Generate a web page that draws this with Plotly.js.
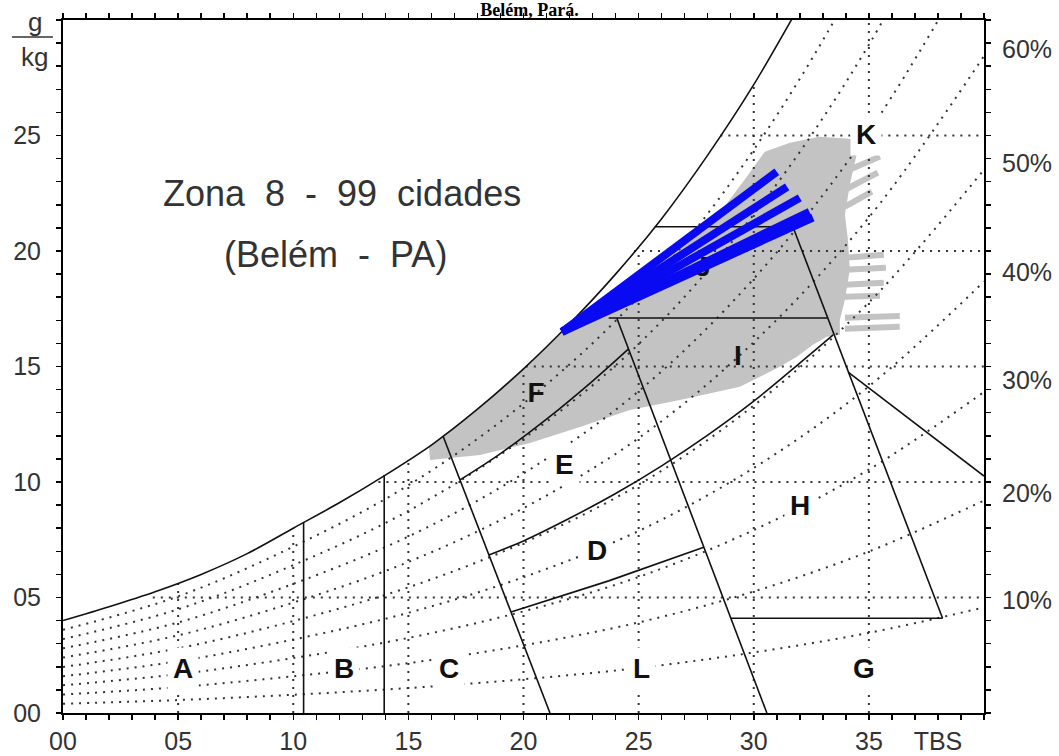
<!DOCTYPE html>
<html><head><meta charset="utf-8">
<script src="https://cdn.plot.ly/plotly-3.0.1.min.js"></script>
<style>html,body{margin:0;padding:0;background:#fff}#chart{width:1059px;height:756px}</style>
</head><body><div id="chart"></div>
<script>
// ---------- data ----------
// saturation curve (dry bulb °C, humidity ratio g/kg)
const satT = [0, 2, 4, 6, 8, 10, 12, 14, 16, 18, 20, 22, 24, 26, 28, 30, 32];
const satW = [4.0, 4.6, 5.25, 6.0, 6.9, 8.0, 9.1, 10.3, 11.6, 13.15, 14.9, 16.85, 19.0, 21.4, 24.15, 27.2, 30.65];

// relative-humidity curves (dotted)
const rhT  = [0, 5, 10, 15, 20, 25, 30, 35, 40];
const rh10 = [0.40, 0.56, 0.79, 1.08, 1.46, 1.95, 2.62, 3.47, 4.57];
const rh20 = [0.80, 1.12, 1.59, 2.16, 2.93, 3.92, 5.26, 6.99, 9.20];
const rh30 = [1.20, 1.68, 2.38, 3.25, 4.40, 5.89, 7.92, 10.54, 13.90];
const rh40 = [1.59, 2.24, 3.18, 4.34, 5.88, 7.88, 10.61, 14.14, 18.68];
const rh50 = [1.99, 2.80, 3.98, 5.44, 7.37, 9.88, 13.31, 17.77, 23.52];
const rh60 = [2.40, 3.36, 4.78, 6.54, 8.87, 11.90, 16.05, 21.45, 28.44];
const rh70 = [2.80, 3.92, 5.59, 7.64, 10.37, 13.93, 18.80, 25.17, 33.44];
const rh80 = [3.20, 4.49, 6.40, 8.75, 11.88, 15.97, 21.58, 28.93, 38.51];
const rh90 = [3.60, 5.05, 7.20, 9.86, 13.40, 18.02, 24.38, 32.73, 43.66];
const rhCurves = [rh10, rh20, rh30, rh40, rh50, rh60, rh70, rh80, rh90];

// right-side RH labels
const rightPct  = ['10%', '20%', '30%', '40%', '50%', '60%'];
const rightPctW = [4.88, 9.52, 14.42, 19.1, 23.83, 28.73];

// dotted grid under the saturation curve
const gridVT   = [5, 10, 15, 20, 25, 30, 35];
const gridVTop = [5.6, 8.0, 10.95, 14.9, 20.1, 27.2, 30];
const gridHW    = [5, 10, 15, 20, 25];
const gridHFrom = [3.9, 13.7, 20.1, 24.8, 28.55];

// straight zone boundaries
const segT = [[10.45, 10.45], [13.95, 13.95], [16.5, 21.15], [24.05, 30.57], [31.7, 38.2],
              [29.0, 38.2], [34.1, 40], [23.7, 33.2], [25.7, 31.7], [19.46, 23.7, 27.83]];
const segW = [[0, 8.25], [0, 10.3], [12.0, 0], [17.1, 0], [21.05, 4.1],
              [4.1, 4.1], [14.76, 10.26], [17.1, 17.1], [21.05, 21.05], [4.37, 5.72, 7.18]];
// curved zone boundaries (50% and 80% RH pieces)
const b50T = [18.5, 20, 22, 24, 26, 28, 30, 32, 33.45];
const b50W = [6.84, 7.45, 8.43, 9.5, 10.7, 12.03, 13.5, 15.15, 16.37];
const b80T = [17.24, 19, 21, 23, 24.55];
const b80W = [10.09, 11.23, 12.72, 14.37, 15.75];

// gray cloud of hourly climate data (outline)
const cloudT = [15.9, 17, 18, 19, 20, 21, 21.7, 23.32, 25.49, 28.53, 29.61, 30.48, 31.57, 32.87, 34.3,
                34.5, 34.17, 33.96, 34.09, 34.17, 33.96, 33.74, 33.74, 33.17, 32.57, 31.87, 31.13,
                29.40, 26.79, 24.62, 22.45, 20.28, 18.11, 15.94];
const cloudW = [11.5, 12.35, 13.15, 14.0, 14.9, 15.85, 16.5, 17.88, 19.4, 21.66, 23.09, 24.30, 24.69, 24.95, 24.85,
                24.3, 22.87, 21.57, 20.49, 19.19, 17.89, 17.02, 16.37, 16.29, 15.94, 15.42, 14.99,
                14.12, 13.55, 13.12, 12.38, 11.69, 11.17, 10.95];
// streaks on the right edge of the cloud
const streakT0 = [33.96, 33.96, 33.96, 33.96, 33.96, 33.96, 33.96, 33.96, 33.96];
const streakW0 = [23.43, 22.65, 21.92, 19.71, 19.19, 18.54, 18.02, 17.11, 16.63];
const streakT1 = [35.48, 35.39, 35.13, 35.65, 35.74, 35.65, 35.48, 36.34, 36.34];
const streakW1 = [24.09, 23.39, 22.57, 19.84, 19.27, 18.63, 18.06, 17.19, 16.72];

// blue lines (Belém daily profiles)
const blueT0 = [21.67, 21.67, 21.67, 21.67, 21.67];
const blueW0 = [16.5, 16.5, 16.5, 16.5, 16.5];
const blueT1 = [31.0, 31.45, 32.0, 32.42, 32.57];
const blueW1 = [23.43, 22.78, 22.3, 21.7, 21.45];

// zone letters
const zoneTxt = ['A', 'B', 'C', 'L', 'G', 'D', 'E', 'H', 'K'];
const zoneT   = [5.21, 12.2, 16.76, 25.14, 34.8, 23.19, 21.8, 32.0, 34.87];
const zoneW   = [1.94, 1.94, 1.94, 1.94, 1.94, 7.05, 10.74, 9.0, 25.04];
const grayTxt = ['F', 'I', 'J'];
const grayT   = [20.55, 29.31, 27.8];
const grayW   = [13.75, 15.37, 19.2];

// tick labels
const xTickVals = Array.from({length: 41}, (_, i) => i);
const xTickText = xTickVals.map(v => v === 38 ? 'TBS' : (v % 5 === 0 && v < 40 ? String(v).padStart(2, '0') : ''));
const yTickVals = Array.from({length: 31}, (_, i) => i);
const yTickText = yTickVals.map(v => (v % 5 === 0 && v < 30 ? String(v).padStart(2, '0') : ''));

// ---------- styles ----------
const GRAY = '#c3c3c3', DOT = '#333', SOLID = '#111', BLUE = '#0a0af2';
const DOTDASH = '2px,6px';
const SANS = 'Liberation Sans, Arial, sans-serif';

const traces = [];
traces.push({x: cloudT, y: cloudW, mode: 'lines', fill: 'toself', fillcolor: GRAY,
             line: {width: 0, color: GRAY}, hoverinfo: 'skip', showlegend: false});
streakT0.forEach((t, i) => traces.push({x: [t, streakT1[i]], y: [streakW0[i], streakW1[i]], mode: 'lines',
             line: {color: GRAY, width: 6}, hoverinfo: 'skip', showlegend: false}));

const gx = [], gy = [];
gridVT.forEach((t, i) => { gx.push(t, t, null); gy.push(0, gridVTop[i], null); });
gridHW.forEach((w, i) => { gx.push(gridHFrom[i], 40, null); gy.push(w, w, null); });
traces.push({x: gx, y: gy, mode: 'lines', line: {color: DOT, width: 2, dash: DOTDASH},
             hoverinfo: 'skip', showlegend: false});

rhCurves.forEach(c => traces.push({x: rhT, y: c, mode: 'lines',
             line: {color: DOT, width: 2, dash: DOTDASH, shape: 'spline', smoothing: 1},
             hoverinfo: 'skip', showlegend: false}));

traces.push({x: grayT, y: grayW, mode: 'text', text: grayTxt,
             textfont: {family: SANS, size: 28, color: '#111', weight: 'bold'},
             hoverinfo: 'skip', showlegend: false});

segT.forEach((t, i) => traces.push({x: t, y: segW[i], mode: 'lines',
             line: {color: SOLID, width: 1.6}, hoverinfo: 'skip', showlegend: false}));
traces.push({x: b50T, y: b50W, mode: 'lines', line: {color: SOLID, width: 1.6, shape: 'spline'},
             hoverinfo: 'skip', showlegend: false});
traces.push({x: b80T, y: b80W, mode: 'lines', line: {color: SOLID, width: 1.6, shape: 'spline'},
             hoverinfo: 'skip', showlegend: false});
traces.push({x: satT, y: satW, mode: 'lines', line: {color: SOLID, width: 1.6, shape: 'spline', smoothing: 0.8},
             hoverinfo: 'skip', showlegend: false});

blueT0.forEach((t, i) => traces.push({x: [t, blueT1[i]], y: [blueW0[i], blueW1[i]], mode: 'lines',
             line: {color: BLUE, width: 8}, hoverinfo: 'skip', showlegend: false}));

const annotations = [];
zoneTxt.forEach((s, i) => annotations.push({x: zoneT[i], y: zoneW[i], xref: 'x', yref: 'y', text: '<b>' + s + '</b>',
             showarrow: false, font: {family: SANS, size: 28, color: '#111'}, bgcolor: '#fff', borderpad: 5}));
rightPct.forEach((s, i) => annotations.push({x: 1, y: rightPctW[i], xref: 'paper', yref: 'y', text: s,
             xanchor: 'left', xshift: 16, showarrow: false, font: {family: SANS, size: 25, color: '#333'}}));
annotations.push({x: 12.1, y: 22.5, xref: 'x', yref: 'y', showarrow: false,
             text: 'Zona\u00a0\u00a08\u00a0\u00a0-\u00a0\u00a099\u00a0\u00a0cidades',
             font: {family: SANS, size: 36, color: '#333'}});
annotations.push({x: 11.85, y: 19.84, xref: 'x', yref: 'y', showarrow: false,
             text: '(Belém\u00a0\u00a0-\u00a0\u00a0PA)', font: {family: SANS, size: 36, color: '#333'}});
annotations.push({x: -0.033, y: 1.0, xref: 'paper', yref: 'paper', showarrow: false, text: 'g',
             yanchor: 'middle', xshift: -7, yshift: -2, font: {family: SANS, size: 26, color: '#333'}});
annotations.push({x: -0.035, y: 0.947, xref: 'paper', yref: 'paper', showarrow: false, text: 'kg',
             yanchor: 'middle', xshift: -12, font: {family: SANS, size: 26, color: '#333'}});

const layout = {
  width: 1059, height: 756,
  margin: {l: 63, r: 75, t: 20, b: 43},
  paper_bgcolor: '#fff', plot_bgcolor: '#fff',
  showlegend: false,
  title: {text: '<b>Belém, Pará.</b>', x: 0.5, xanchor: 'center', y: 0.987, yanchor: 'middle',
          font: {family: 'Liberation Serif, Times New Roman, serif', size: 18, color: '#000'}},
  xaxis: {range: [0, 40], tickmode: 'array', tickvals: xTickVals, ticktext: xTickText,
          ticks: 'outside', ticklen: 5, tickwidth: 1.5, tickcolor: '#000',
          showline: true, linewidth: 2, linecolor: '#000', mirror: 'ticks',
          showgrid: false, zeroline: false, fixedrange: true,
          tickfont: {family: SANS, size: 25, color: '#333'}},
  yaxis: {range: [0, 30], tickmode: 'array', tickvals: yTickVals, ticktext: yTickText,
          ticks: 'outside', ticklen: 5, tickwidth: 1.5, tickcolor: '#000',
          showline: true, linewidth: 2, linecolor: '#000', mirror: 'ticks',
          showgrid: false, zeroline: false, fixedrange: true, ticklabelstandoff: 10,
          tickfont: {family: SANS, size: 25, color: '#333'}},
  shapes: [{type: 'line', xref: 'paper', yref: 'paper', x0: -0.0554, x1: -0.0109, y0: 0.9755, y1: 0.9755,
            line: {color: '#333', width: 1.5}}],
  annotations: annotations
};

Plotly.newPlot('chart', traces, layout, {displayModeBar: false, staticPlot: true});
</script></body></html>
